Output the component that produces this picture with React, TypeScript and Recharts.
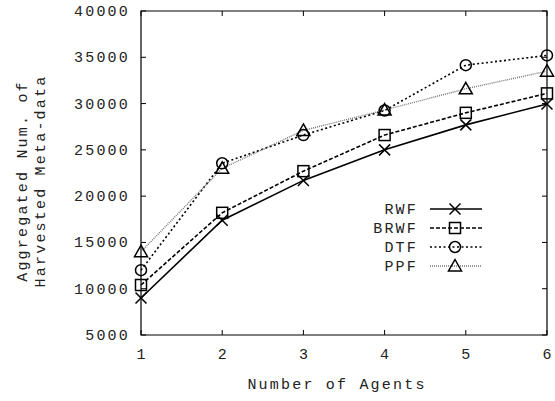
import { LineChart, Line, XAxis, YAxis, ReferenceArea } from 'recharts'

const AGENTS = [1, 2, 3, 4, 5, 6]
const RWF = [9000, 17400, 21700, 25000, 27700, 29950]
const BRWF = [10400, 18200, 22700, 26600, 29000, 31100]
const DTF = [12000, 23550, 26600, 29250, 34150, 35200]
const PPF = [14000, 23000, 27100, 29300, 31600, 33500]
const Y_TICKS = [5000, 10000, 15000, 20000, 25000, 30000, 35000, 40000]

const data = AGENTS.map((a, i) => ({
  agents: a,
  RWF: RWF[i],
  BRWF: BRWF[i],
  DTF: DTF[i],
  PPF: PPF[i],
}))

const FONT = "'Liberation Mono', 'DejaVu Sans Mono', monospace"
const FS = 15
const LS = 2.2
const TXT = '#222'

const PLOT_LEFT = 141
const PLOT_RIGHT = 547
const PLOT_TOP = 11
const PLOT_BOTTOM = 335
const TICK = 5

type Marker = 'cross' | 'square' | 'circle' | 'triangle'

function markerShape(kind: Marker, cx: number, cy: number, color: string) {
  const s = 5.5
  const common = { fill: 'none', stroke: color, strokeWidth: 1.5 }
  if (kind === 'cross')
    return <path d={`M${cx - s},${cy - s}L${cx + s},${cy + s}M${cx + s},${cy - s}L${cx - s},${cy + s}`} {...common} />
  if (kind === 'square') return <rect x={cx - s} y={cy - s} width={2 * s} height={2 * s} {...common} />
  if (kind === 'circle') return <circle cx={cx} cy={cy} r={s} {...common} />
  return <path d={`M${cx},${cy - 6.5}L${cx + 6.5},${cy + 5}L${cx - 6.5},${cy + 5}Z`} {...common} />
}

const SERIES: { key: string; marker: Marker; dash?: string; color: string; width: number }[] = [
  { key: 'RWF', marker: 'cross', color: '#000', width: 1.6 },
  { key: 'BRWF', marker: 'square', dash: '4 2', color: '#000', width: 1.6 },
  { key: 'DTF', marker: 'circle', dash: '2 2.5', color: '#000', width: 1.6 },
  { key: 'PPF', marker: 'triangle', dash: '1 1', color: '#777', width: 1.4 },
]

const XTick = (props: any) => {
  const { x, payload } = props
  return (
    <g>
      <line x1={x} x2={x} y1={PLOT_BOTTOM} y2={PLOT_BOTTOM - TICK} stroke="#000" />
      <line x1={x} x2={x} y1={PLOT_TOP} y2={PLOT_TOP + TICK} stroke="#000" />
      <text x={x + LS / 2} y={359} textAnchor="middle" fontFamily={FONT} fontSize={FS} letterSpacing={LS} fill={TXT}>
        {payload.value}
      </text>
    </g>
  )
}

const YTick = (props: any) => {
  const { y, payload } = props
  return (
    <g>
      <line x1={PLOT_LEFT} x2={PLOT_LEFT + TICK} y1={y} y2={y} stroke="#000" />
      <line x1={PLOT_RIGHT} x2={PLOT_RIGHT - TICK} y1={y} y2={y} stroke="#000" />
      <text x={130} y={y + 5} textAnchor="end" fontFamily={FONT} fontSize={FS} letterSpacing={LS} fill={TXT}>
        {payload.value}
      </text>
    </g>
  )
}

const YLabel = () => (
  <g fontFamily={FONT} fontSize={FS} letterSpacing={LS} fill={TXT}>
    <text transform="translate(27,181) rotate(-90)" textAnchor="middle">Aggregated Num. of</text>
    <text transform="translate(45,181) rotate(-90)" textAnchor="middle">Harvested Meta-data</text>
  </g>
)

// legend drawn inside the svg so it takes no room from the plot
const LegendBox = () => (
  <g transform="translate(338,199)">
    {SERIES.map((s, i) => {
      const cy = 10 + i * 19
      return (
        <g key={s.key}>
          <text x={80} y={cy + 5} textAnchor="end" fontFamily={FONT} fontSize={FS} letterSpacing={LS} fill={TXT}>
            {s.key}
          </text>
          <line x1={92} x2={144} y1={cy} y2={cy} stroke={s.color} strokeWidth={s.width} strokeDasharray={s.dash} />
          {markerShape(s.marker, 117, cy, '#000')}
        </g>
      )
    })}
  </g>
)

const XLabel = () => (
  <g>
    <text x={337} y={389} textAnchor="middle" fontFamily={FONT} fontSize={FS} letterSpacing={LS} fill={TXT}>
      Number of Agents
    </text>
    <LegendBox />
  </g>
)

export default function App() {
  return (
    <div style={{ width: 555, height: 401, background: '#fff' }}>
      <style>{'body{margin:0}'}</style>
      <LineChart width={555} height={401} data={data} margin={{ top: PLOT_TOP, right: 555 - PLOT_RIGHT, bottom: 0, left: 0 }}>
        <XAxis
          dataKey="agents"
          type="number"
          domain={[1, 6]}
          ticks={AGENTS}
          height={401 - PLOT_BOTTOM}
          axisLine={false}
          tickLine={false}
          tick={<XTick />}
          interval={0}
          label={{ content: () => <XLabel /> }}
        />
        <YAxis
          type="number"
          domain={[5000, 40000]}
          ticks={Y_TICKS}
          width={PLOT_LEFT}
          axisLine={false}
          tickLine={false}
          tick={<YTick />}
          interval={0}
          label={{ content: () => <YLabel /> }}
        />
        <ReferenceArea x1={1} x2={6} y1={5000} y2={40000} fill="none" stroke="#000" strokeWidth={1.2} fillOpacity={0} />
        {SERIES.map((s) => (
          <Line
            key={s.key}
            dataKey={s.key}
            type="linear"
            stroke={s.color}
            strokeWidth={s.width}
            strokeDasharray={s.dash}
            isAnimationActive={false}
            dot={(p: any) => <g key={`${s.key}-${p.index}`}>{markerShape(s.marker, p.cx, p.cy, '#000')}</g>}
            activeDot={false}
          />
        ))}
      </LineChart>
    </div>
  )
}
